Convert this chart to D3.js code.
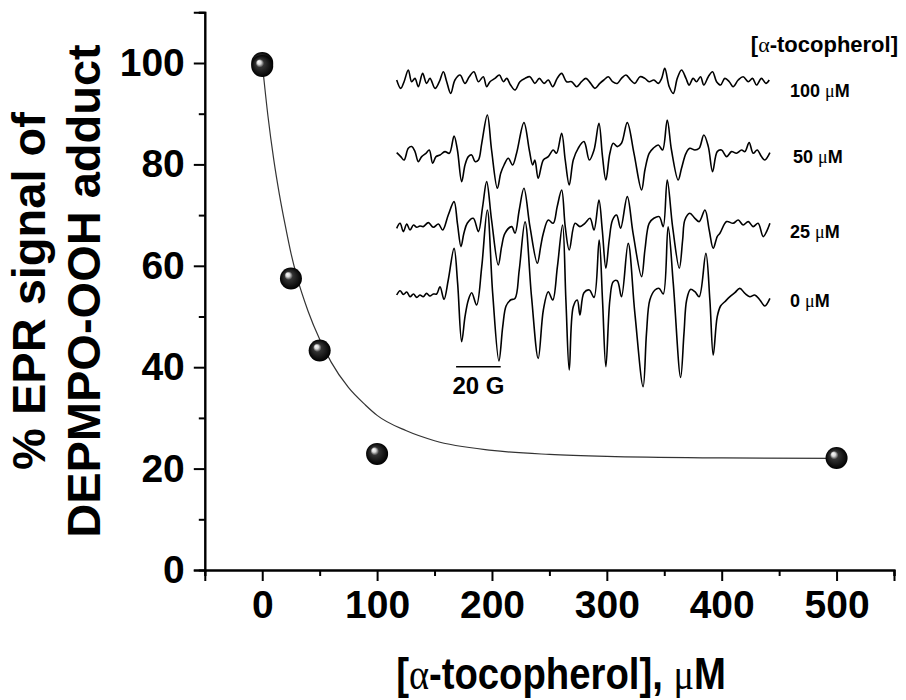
<!DOCTYPE html>
<html>
<head>
<meta charset="utf-8">
<script src="https://cdn.jsdelivr.net/npm/d3@7"></script>
<style>
  body { margin: 0; background: #fff; }
  text { font-family: "Liberation Sans", Arial, sans-serif; font-weight: bold; fill: #000; }
  .sym { font-family: "Liberation Serif", "DejaVu Serif", serif; font-weight: normal; }
</style>
</head>
<body>
<svg id="chart" width="906" height="700"></svg>
<script>
// main plot: % EPR signal vs [alpha-tocopherol] (uM)
var conc = [0, 0, 25, 50, 100, 500];
var signal = [100, 99.4, 57.5, 43.3, 22.9, 22.1];
// fitted curve
var fitConc = [0, 5, 10, 15, 20, 25, 30, 40, 50, 60, 75, 90, 100, 125, 150, 200, 250, 300, 400, 500];
var fitSignal = [100, 89.5, 81, 74, 68, 62.5, 58, 51, 45.5, 41, 36, 32.5, 30.5, 27.5, 25.5, 23.6, 22.8, 22.4, 22.1, 22.0];
var xTicks = [0, 100, 200, 300, 400, 500];
var xMinor = [-50, 50, 150, 250, 350, 450, 550];
var yTicks = [0, 20, 40, 60, 80, 100];
var yMinor = [10, 30, 50, 70, 90, 110];

// inset EPR spectra: field (G) and intensity (a.u.)
var field100 = [0,1.8,3.3,5.2,6.7,8.2,9.7,11.6,13.4,14.9,17.2,19.1,20.9,22.4,24.2,26.1,28.4,30.6,32.5,34.6,36.6,38.8,40.3,41.8,44.0,46.0,47.8,49.3,51.0,53.0,55.2,57.5,59.7,61.9,63.9,66.0,67.9,69.9,71.9,73.9,76.1,78.4,80.6,82.8,84.8,86.9,88.8,91.0,92.8,94.8,96.7,98.8,100.7,102.7,104.8,106.7,109.0,111.2,113.1,115.2,117.2,118.7,120.1,122.1,123.9,125.7,127.6,129.6,131.0,132.8,134.3,136.1,137.6,139.6,141.5,143.3,145.1,147.0,149.0,150.7,153.0,155.2,157.5,159.4,161.2,163.4,165.4,166.9];
var epr100 = [6.7,-1.7,5,16.7,5,8.3,0,13.3,3.3,8.3,-1.7,5,15,5,-6.7,6.7,11.7,3.3,10,15,5,10,0,5,8.3,11.7,5,8.3,1.7,-3.3,5,8.3,10,3.3,8.3,3.3,6.7,0,8.3,13.3,5,5,0,5,8.3,3.3,-1.7,3.3,6.7,10,5,3.3,8.3,11.7,6.7,3.3,10,8.3,5,6.7,3.3,8.3,18.3,0,-6.7,8.3,16.7,8.3,1.7,8.3,5,10,1.7,10,15,5,1.7,8.3,5,0,6.7,10,5,8.3,1.7,8.3,3.3,6.7];
var field50 = [0,1.8,3.3,5.2,6.7,8.2,9.7,11.2,13.1,14.6,16.1,17.6,19.4,21.6,23.6,25.7,27.2,29.1,30.6,32.1,33.6,35.1,36.6,38.1,40.6,42.5,45.1,46.6,48.1,50.0,51.9,53.7,57.0,59.4,60.9,61.9,63.4,65.7,67.9,70.1,71.6,73.9,75.5,77.3,79.1,81.3,83.9,86.3,88.4,90.6,92.2,93.7,95.5,97.0,98.8,100.7,103.3,106.3,109.7,111.2,113.1,114.9,117.2,119.1,121.2,123.1,126.1,127.6,129.6,131.3,133.6,135.5,137.6,139.6,141.5,143.6,145.5,147.8,150.0,152.2,154.5,156.0,157.9,159.7,161.5,163.4,164.9,167.2];
var epr50 = [0.7,-3.3,-6.7,5,6.7,1.7,-8.3,-3.3,0,3.3,-10,-3.3,-1.7,1.7,0,17.3,3.3,-28.3,-11.7,-3.3,-1.7,-8.3,-6.7,10,38.3,3.3,-35,-20,-11.7,-5,-11.7,0,30.7,3.3,-11.7,-6.7,-25,-6.7,-3.3,3.3,0,20,-6.7,-31.7,-6.7,5,11.7,-6.7,3.3,30,-3.3,-26.7,0,10,6.7,10,30.7,0,-36.7,-16.7,0,5,8.3,3.3,33.3,3.3,-26.7,-15,0,5,3.3,5,18.3,6.7,-18.3,1.7,3.3,-3.3,1.7,0,3.3,1.7,10.7,0,3.3,-3.3,-6.7,0.7];
var field25 = [0,1.5,3.0,4.5,6.0,7.5,9.0,10.4,11.9,14.2,16.4,18.7,20.6,23.1,25.7,27.2,28.8,30.1,31.6,34.3,36.6,38.5,40.3,42.5,45.5,47.0,48.5,51.5,53.0,54.9,57.0,59.7,63.0,64.5,65.7,67.9,70.1,71.9,73.9,75.5,77.3,79.9,82.1,84.3,86.6,88.4,90.6,92.1,93.7,95.2,96.7,98.5,100.3,103.3,105.9,109.7,111.2,113.1,115.2,117.6,119.4,121.2,123.6,126.6,128.1,129.1,131.3,133.6,135.5,138.1,140.0,141.8,143.6,144.8,147.8,150.7,153.0,155.2,157.5,159.7,161.9,164.2,165.7,167.2];
var epr25 = [0,5,-3.3,4.3,-1.7,3.3,1,2.3,1.7,5.7,1,4.3,-1.7,13.3,26.7,5,-18.3,-5,5,10,-3.3,21.7,46.7,8.3,-36.7,-18.3,-5,1.7,-5,18.3,40,1.7,-35,-18.3,-5,8.3,5,21.7,38.3,1.7,-21.7,5,1.7,5,10,-1.7,28.3,-1.7,-40,-11.7,8.3,13.3,0,31.7,-5,-48.3,-21.7,5,10,11.7,1.7,48.3,1.7,-40,-11.7,8.3,15,10,6.7,18.3,-1.7,-20,-8.3,-5,6.7,5,8.3,3.3,6.7,1.7,5,-8.3,-3.3,5];
var field0 = [0,1.5,3.0,4.5,6.0,7.5,9.0,10.4,11.9,13.4,14.9,16.4,17.9,19.4,21.2,23.1,25.7,27.3,29.1,30.6,32.1,33.6,35.8,38.1,40.6,43.0,45.8,47.5,49.0,51.0,53.0,54.9,57.5,60.4,63.4,65.7,67.9,69.9,72.0,74.3,75.8,77.3,79.1,80.9,82.1,83.9,86.3,88.4,90.7,92.2,93.7,95.5,97.0,98.8,100.7,103.7,106.7,110.4,111.9,113.4,115.7,117.6,119.4,121.6,123.9,127.2,128.7,129.9,131.6,133.6,135.5,138.5,140.3,141.8,143.6,145.1,147.0,149.3,151.5,153.7,156.0,158.2,160.4,162.7,164.9,167.2];
var epr0 = [1.7,6,2.3,4.7,0,2.7,-0.7,1.7,0,3.3,0.7,2.7,2.7,10,-2.7,16.7,48.3,13.3,-45,-20,-3.3,4,-8.3,30,86.7,3.3,-64.3,-30,-9.3,-3.3,-1.7,26.7,75,0,-61.7,-13.3,5,-3.3,30,71.7,-3.3,-73.3,-10,-3.3,-18.3,4,6.7,-0.7,56.7,-3.3,-70,-3.3,15,16,0,53.3,-16.7,-90,-36.7,-3.3,6.7,8.3,2.7,70,13.3,-80.7,-36.7,-3.3,7.3,5,0,43.3,-3.3,-58.3,-20,-9.3,-5,0,4,8.3,3.3,0,1.7,-3.3,-9.3,-1.7];
var traceLabels = ["100", "50", "25", "0"];
var scaleBarG = [26.6, 46.6]; // 20 G

var svg = d3.select("#chart");

var x = d3.scaleLinear().domain([-50, 550]).range([204.8, 894]);
var y = d3.scaleLinear().domain([0, 110]).range([570, 12.3]);

// defs: shiny ball
var grad = svg.append("defs").append("radialGradient")
    .attr("id", "ball").attr("cx", "50%").attr("cy", "50%").attr("r", "50%")
    .attr("fx", "33%").attr("fy", "30%");
grad.append("stop").attr("offset", "0%").attr("stop-color", "#fff");
grad.append("stop").attr("offset", "18%").attr("stop-color", "#d8d8d8");
grad.append("stop").attr("offset", "38%").attr("stop-color", "#333");
grad.append("stop").attr("offset", "100%").attr("stop-color", "#000");

// axes
var yAxis = d3.axisLeft(y).tickValues(yTicks).tickSize(11).tickPadding(9);
var yAxisMinor = d3.axisLeft(y).tickValues(yMinor).tickSize(6).tickFormat("");
var xAxis = d3.axisBottom(x).tickValues(xTicks).tickSize(11).tickPadding(9);
var xAxisMinor = d3.axisBottom(x).tickValues(xMinor).tickSize(6).tickFormat("");

svg.append("g").attr("transform", "translate(" + x(-50) + ",0)").call(yAxis);
svg.append("g").attr("transform", "translate(" + x(-50) + ",0)").call(yAxisMinor);
svg.append("g").attr("transform", "translate(0," + y(0) + ")").call(xAxis);
svg.append("g").attr("transform", "translate(0," + y(0) + ")").call(xAxisMinor);

svg.selectAll(".domain").attr("stroke", "#000").attr("stroke-width", 2);
svg.selectAll(".tick line").attr("stroke", "#000").attr("stroke-width", 2);
svg.selectAll(".tick text").style("font-size", "39px").attr("font-family", null);

// axis titles
var yTitle = svg.append("text")
    .attr("transform", "translate(0,291) rotate(-90)")
    .attr("text-anchor", "middle")
    .style("font-size", "47px");
yTitle.append("tspan").attr("x", 0).attr("y", 45).text("% EPR signal of");
yTitle.append("tspan").attr("x", 0).attr("y", 100).text("DEPMPO-OOH adduct");

var xTitle = svg.append("text")
    .attr("transform", "translate(561,689) scale(0.87,1)")
    .attr("text-anchor", "middle")
    .style("font-size", "44px");
xTitle.append("tspan").text("[");
xTitle.append("tspan").attr("class", "sym").text("α");
xTitle.append("tspan").text("-tocopherol], ");
xTitle.append("tspan").attr("class", "sym").text("μ");
xTitle.append("tspan").text("M");

// fitted curve
var fitLine = d3.line()
    .x(function(d, i) { return x(fitConc[i]); })
    .y(function(d) { return y(d); })
    .curve(d3.curveMonotoneX);
svg.append("path")
    .attr("d", fitLine(fitSignal))
    .attr("fill", "none").attr("stroke", "#333").attr("stroke-width", 1.2);

// data balls
svg.selectAll(".pt").data(signal).enter().append("circle")
    .attr("class", "pt")
    .attr("cx", function(d, i) { return x(conc[i]); })
    .attr("cy", function(d) { return y(d); })
    .attr("r", 11)
    .attr("fill", "url(#ball)");

// inset
var gxs = d3.scaleLinear().domain([0, 168]).range([396.7, 771.7]);
var gys = d3.scaleLinear().domain([0, 210]).range([296.7, 86.7]);
var traceOffset = [210, 143.4, 68.4, 0];
var traces = [[field100, epr100], [field50, epr50], [field25, epr25], [field0, epr0]];

traces.forEach(function(t, k) {
  var pts = d3.zip(t[0], t[1]);
  var line = d3.line()
      .x(function(d) { return gxs(d[0]); })
      .y(function(d) { return gys(traceOffset[k] + d[1]); })
      .curve(d3.curveCatmullRom.alpha(0.5));
  svg.append("path").attr("d", line(pts))
      .attr("fill", "none").attr("stroke", "#000").attr("stroke-width", 1.6)
      .attr("stroke-linejoin", "round");
  var lab = svg.append("text")
      .attr("x", k == 1 ? 793 : 790)
      .attr("y", gys(traceOffset[k]) + 10)
      .style("font-size", "18px");
  lab.append("tspan").text(traceLabels[k] + " ");
  lab.append("tspan").attr("class", "sym").text("μ");
  lab.append("tspan").text("M");
});

var head = svg.append("text").attr("x", 898).attr("y", 52)
    .attr("text-anchor", "end").style("font-size", "22px");
head.append("tspan").text("[");
head.append("tspan").attr("class", "sym").text("α");
head.append("tspan").text("-tocopherol]");

// 20 G scale bar
svg.append("line")
    .attr("x1", gxs(scaleBarG[0])).attr("x2", gxs(scaleBarG[1]))
    .attr("y1", gys(-70)).attr("y2", gys(-70))
    .attr("stroke", "#000").attr("stroke-width", 1.5);
svg.append("text")
    .attr("x", (gxs(scaleBarG[0]) + gxs(scaleBarG[1])) / 2).attr("y", 394)
    .attr("text-anchor", "middle").style("font-size", "24px")
    .text("20 G");
</script>
</body>
</html>
